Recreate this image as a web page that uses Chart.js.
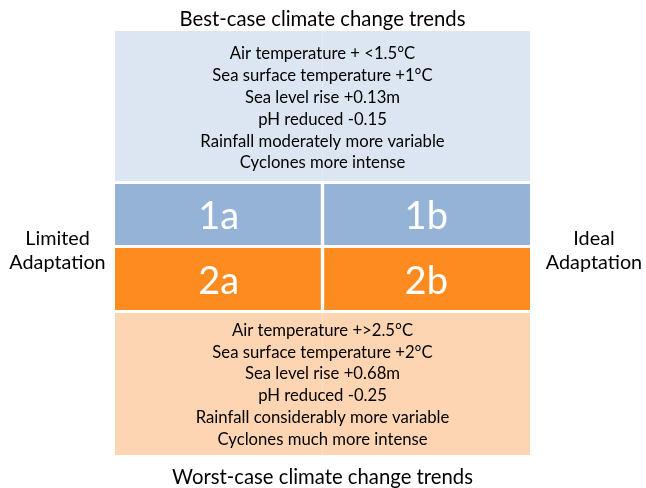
<!DOCTYPE html>
<html>
<head>
<meta charset="utf-8">
<script src="https://cdn.jsdelivr.net/npm/chart.js@4/dist/chart.umd.min.js"></script>
<style>
  html, body { margin: 0; padding: 0; background: #ffffff; }
  #wrap { width: 646px; height: 488px; }
</style>
</head>
<body>
<div id="wrap"><canvas id="c" width="646" height="488"></canvas></div>
<script>
// ---- data ----
const columns = ['Limited Adaptation', 'Ideal Adaptation'];
const bestCaseExtent = [0, 150];
const scenario1Extent = [153, 214];
const scenario2Extent = [217, 279];
const worstCaseExtent = [282, 424];
const scaleMax = 424;
const scenario1Labels = ['1a', '1b'];
const scenario2Labels = ['2a', '2b'];
const bestCaseTitle = 'Best-case climate change trends';
const worstCaseTitle = 'Worst-case climate change trends';
const bestCaseLines = [
  'Air temperature + <1.5°C',
  'Sea surface temperature +1°C',
  'Sea level rise +0.13m',
  'pH reduced -0.15',
  'Rainfall moderately more variable',
  'Cyclones more intense'
];
const worstCaseLines = [
  'Air temperature +>2.5°C',
  'Sea surface temperature +2°C',
  'Sea level rise +0.68m',
  'pH reduced -0.25',
  'Rainfall considerably more variable',
  'Cyclones much more intense'
];
const leftLabel = ['Limited', 'Adaptation'];
const rightLabel = ['Ideal', 'Adaptation'];

// ---- styling ----
const FONT = 'Lato, "Open Sans", sans-serif';
const colLightBlue = '#dce6f2';
const colBlue = '#95b3d7';
const colOrange = '#fd8b1f';
const colLightOrange = '#fdd5b3';

const textPlugin = {
  id: 'diagramText',
  afterDatasetsDraw(chart) {
    const ctx = chart.ctx;
    const x = chart.scales.x, y = chart.scales.y;
    const area = chart.chartArea;
    const cx = (area.left + area.right) / 2;
    ctx.save();
    ctx.textAlign = 'center';
    ctx.textBaseline = 'middle';

    // titles
    ctx.fillStyle = '#000';
    ctx.font = '20.3px ' + FONT;
    ctx.fillText(bestCaseTitle, cx, area.top - 12);
    ctx.fillText(worstCaseTitle, cx, area.bottom + 22);

    // box lines
    ctx.font = '16.7px ' + FONT;
    const lh = 21.8;
    const drawLines = (lines, ext, off) => {
      const mid = y.getPixelForValue((ext[0] + ext[1]) / 2) + off;
      lines.forEach((t, i) => {
        ctx.fillText(t, cx, mid + (i - (lines.length - 1) / 2) * lh);
      });
    };
    drawLines(bestCaseLines, bestCaseExtent, 2.5);
    drawLines(worstCaseLines, worstCaseExtent, 1);

    // cell labels
    ctx.fillStyle = '#fff';
    ctx.font = '38px ' + FONT;
    const cellRow = (labels, ext) => {
      const my = y.getPixelForValue((ext[0] + ext[1]) / 2) + 2.5;
      labels.forEach((t, i) => {
        ctx.fillText(t, x.getPixelForValue(i), my);
      });
    };
    cellRow(scenario1Labels, scenario1Extent);
    cellRow(scenario2Labels, scenario2Extent);

    // side labels
    ctx.fillStyle = '#000';
    ctx.font = '19.8px ' + FONT;
    const sideMid = (y.getPixelForValue(scenario1Extent[1]) + y.getPixelForValue(scenario2Extent[0])) / 2 + 4;
    const drawSide = (lines, sx) => {
      lines.forEach((t, i) => ctx.fillText(t, sx, sideMid + (i - 0.5) * 23.5));
    };
    drawSide(leftLabel, area.left / 2);
    drawSide(rightLabel, area.right + 64);
    ctx.restore();
  }
};

const cellBorderL = { left: 0, right: 1.7, top: 0, bottom: 0 };
const cellBorderR = { left: 1.7, right: 0, top: 0, bottom: 0 };

new Chart(document.getElementById('c'), {
  type: 'bar',
  data: {
    labels: columns,
    datasets: [
      { label: 'Best-case', data: [bestCaseExtent, bestCaseExtent], backgroundColor: colLightBlue, borderWidth: 0 },
      { label: 'Scenario 1', data: [scenario1Extent, scenario1Extent], backgroundColor: colBlue,
        borderColor: '#ffffff', borderWidth: [cellBorderL, cellBorderR] },
      { label: 'Scenario 2', data: [scenario2Extent, scenario2Extent], backgroundColor: colOrange,
        borderColor: '#ffffff', borderWidth: [cellBorderL, cellBorderR] },
      { label: 'Worst-case', data: [worstCaseExtent, worstCaseExtent], backgroundColor: colLightOrange, borderWidth: 0 }
    ]
  },
  options: {
    responsive: false,
    animation: false,
    devicePixelRatio: 1,
    layout: { padding: { left: 115, right: 116, top: 31, bottom: 33 } },
    datasets: { bar: { grouped: false, barPercentage: 1, categoryPercentage: 1, borderSkipped: false, inflateAmount: 0 } },
    scales: {
      x: { display: false, offset: true },
      y: { display: false, reverse: true, min: 0, max: scaleMax }
    },
    plugins: { legend: { display: false }, tooltip: { enabled: false } }
  },
  plugins: [textPlugin]
});
</script>
</body>
</html>
